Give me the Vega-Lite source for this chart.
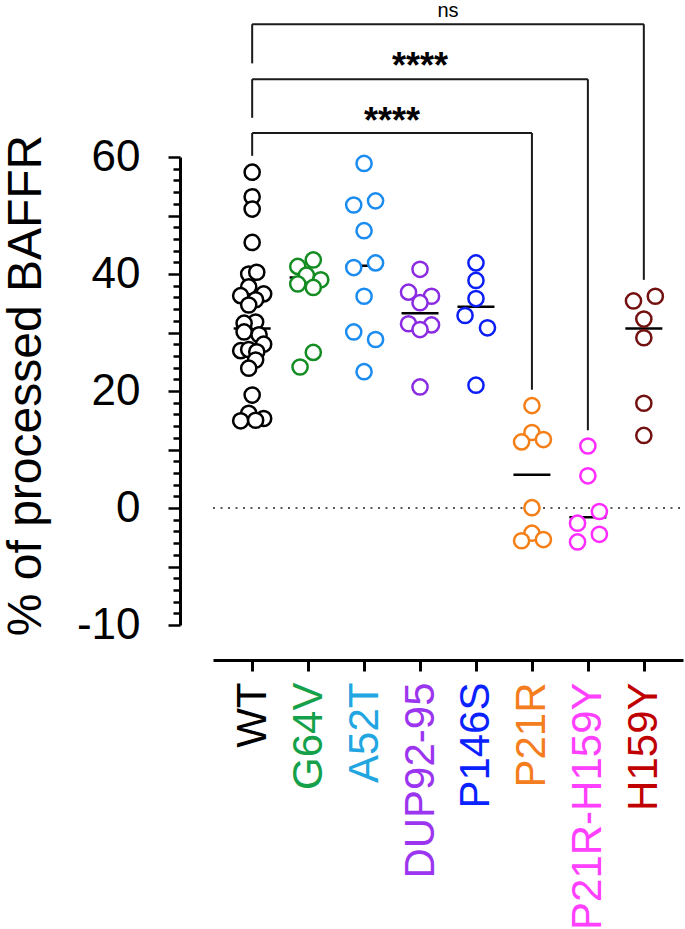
{
  "$schema": "https://vega.github.io/schema/vega-lite/v6.json",
  "width": 470,
  "height": 468,
  "autosize": {"type": "none"},
  "padding": {"left": 213, "top": 157, "right": 2, "bottom": 304},
  "config": {"view": {"stroke": null}, "font": "Liberation Sans"},
  "datasets": {
    "points": [
      {"group": "WT", "value": 57.4, "jitter": 0},
      {"group": "WT", "value": 53.2, "jitter": 0},
      {"group": "WT", "value": 51.1, "jitter": 0},
      {"group": "WT", "value": 45.4, "jitter": 0},
      {"group": "WT", "value": 40.0, "jitter": -0.3},
      {"group": "WT", "value": 40.3, "jitter": 0.4},
      {"group": "WT", "value": 37.8, "jitter": -0.3},
      {"group": "WT", "value": 36.3, "jitter": -1},
      {"group": "WT", "value": 36.6, "jitter": 1},
      {"group": "WT", "value": 35.6, "jitter": 0.3},
      {"group": "WT", "value": 34.7, "jitter": -0.3},
      {"group": "WT", "value": 31.8, "jitter": 0.3},
      {"group": "WT", "value": 31.6, "jitter": -0.7},
      {"group": "WT", "value": 30.1, "jitter": -0.7},
      {"group": "WT", "value": 29.6, "jitter": 0.6},
      {"group": "WT", "value": 28.0, "jitter": 1},
      {"group": "WT", "value": 26.9, "jitter": -1},
      {"group": "WT", "value": 27.1, "jitter": -0.3},
      {"group": "WT", "value": 26.7, "jitter": 0.4},
      {"group": "WT", "value": 25.3, "jitter": 0.3},
      {"group": "WT", "value": 23.9, "jitter": -0.3},
      {"group": "WT", "value": 19.3, "jitter": 0},
      {"group": "WT", "value": 16.2, "jitter": -0.3},
      {"group": "WT", "value": 14.9, "jitter": -1},
      {"group": "WT", "value": 15.3, "jitter": 1},
      {"group": "WT", "value": 15.0, "jitter": 0.3},
      {"group": "G64V", "value": 42.4, "jitter": 0.45},
      {"group": "G64V", "value": 41.3, "jitter": -0.9},
      {"group": "G64V", "value": 39.8, "jitter": -0.15},
      {"group": "G64V", "value": 39.0, "jitter": 1.1},
      {"group": "G64V", "value": 38.3, "jitter": -0.9},
      {"group": "G64V", "value": 37.7, "jitter": 0.45},
      {"group": "G64V", "value": 26.6, "jitter": 0.45},
      {"group": "G64V", "value": 24.1, "jitter": -0.7},
      {"group": "A52T", "value": 58.9, "jitter": 0},
      {"group": "A52T", "value": 51.8, "jitter": -0.9},
      {"group": "A52T", "value": 52.5, "jitter": 1},
      {"group": "A52T", "value": 47.4, "jitter": 0},
      {"group": "A52T", "value": 41.1, "jitter": -0.9},
      {"group": "A52T", "value": 41.9, "jitter": 1},
      {"group": "A52T", "value": 36.2, "jitter": 0},
      {"group": "A52T", "value": 30.1, "jitter": -0.9},
      {"group": "A52T", "value": 28.8, "jitter": 1},
      {"group": "A52T", "value": 23.3, "jitter": 0},
      {"group": "DUP92-95", "value": 40.8, "jitter": 0},
      {"group": "DUP92-95", "value": 36.9, "jitter": -1},
      {"group": "DUP92-95", "value": 36.2, "jitter": 1},
      {"group": "DUP92-95", "value": 35.1, "jitter": 0},
      {"group": "DUP92-95", "value": 31.5, "jitter": -1},
      {"group": "DUP92-95", "value": 31.3, "jitter": 1},
      {"group": "DUP92-95", "value": 30.5, "jitter": 0},
      {"group": "DUP92-95", "value": 20.7, "jitter": 0},
      {"group": "P146S", "value": 41.9, "jitter": 0},
      {"group": "P146S", "value": 38.9, "jitter": 0},
      {"group": "P146S", "value": 35.8, "jitter": 0},
      {"group": "P146S", "value": 32.9, "jitter": -0.95},
      {"group": "P146S", "value": 30.8, "jitter": 1},
      {"group": "P146S", "value": 21.0, "jitter": 0},
      {"group": "P21R", "value": 17.5, "jitter": 0},
      {"group": "P21R", "value": 12.9, "jitter": 0},
      {"group": "P21R", "value": 11.3, "jitter": -0.9},
      {"group": "P21R", "value": 11.7, "jitter": 1},
      {"group": "P21R", "value": 0.05, "jitter": 0},
      {"group": "P21R", "value": -4.3, "jitter": 0},
      {"group": "P21R", "value": -5.6, "jitter": -0.9},
      {"group": "P21R", "value": -5.4, "jitter": 1},
      {"group": "P21R-H159Y", "value": 10.6, "jitter": 0},
      {"group": "P21R-H159Y", "value": 5.5, "jitter": 0},
      {"group": "P21R-H159Y", "value": -0.6, "jitter": 1},
      {"group": "P21R-H159Y", "value": -2.6, "jitter": -0.9},
      {"group": "P21R-H159Y", "value": -4.5, "jitter": 1},
      {"group": "P21R-H159Y", "value": -5.8, "jitter": -0.9},
      {"group": "H159Y", "value": 35.4, "jitter": -0.9},
      {"group": "H159Y", "value": 36.2, "jitter": 1},
      {"group": "H159Y", "value": 32.3, "jitter": 0},
      {"group": "H159Y", "value": 29.1, "jitter": 0},
      {"group": "H159Y", "value": 17.9, "jitter": 0},
      {"group": "H159Y", "value": 12.4, "jitter": 0}
    ],
    "centers": [
      {"group": "WT", "value": 30.7},
      {"group": "G64V", "value": 39.4},
      {"group": "A52T", "value": 41.4},
      {"group": "DUP92-95", "value": 33.3},
      {"group": "P146S", "value": 34.4},
      {"group": "P21R", "value": 5.7},
      {"group": "P21R-H159Y", "value": -1.6},
      {"group": "H159Y", "value": 30.7}
    ],
    "brackets": [
      {"group": "WT", "group2": "P21R", "value": 64.1, "value2": 64.1},
      {"group": "WT", "group2": "WT", "value": 64.1, "value2": 60.2},
      {"group": "P21R", "group2": "P21R", "value": 64.1, "value2": 20.2},
      {"group": "WT", "group2": "P21R-H159Y", "value": 73.3, "value2": 73.3},
      {"group": "WT", "group2": "WT", "value": 73.3, "value2": 66.7},
      {"group": "P21R-H159Y", "group2": "P21R-H159Y", "value": 73.3, "value2": 13.3},
      {"group": "WT", "group2": "H159Y", "value": 82.7, "value2": 82.7},
      {"group": "WT", "group2": "WT", "value": 82.7, "value2": 76.0},
      {"group": "H159Y", "group2": "H159Y", "value": 82.7, "value2": 39.0}
    ],
    "notes": [
      {"group": "A52T", "value": 66.8, "label": "****"},
      {"group": "DUP92-95", "value": 76.2, "label": "****"},
      {"group": "DUP92-95", "value": 84.9, "label": "ns"}
    ]
  },
  "encoding": {
    "x": {
      "field": "group", "type": "nominal",
      "scale": {"type": "point", "domain": ["WT", "G64V", "A52T", "DUP92-95", "P146S", "P21R", "P21R-H159Y", "H159Y"], "padding": 0.7},
      "axis": {
        "title": null, "orient": "bottom", "offset": 35,
        "domainColor": "black", "domainWidth": 3,
        "tickColor": "black", "tickWidth": 3, "tickSize": 11,
        "labelAngle": -90, "labelAlign": "right", "labelBaseline": "middle",
        "labelFont": "Liberation Sans", "labelFontSize": 42, "labelPadding": 11, "labelLimit": 0,
        "labelColor": {"condition": [
          {"test": "datum.value === 'G64V'", "value": "#14A14A"},
          {"test": "datum.value === 'A52T'", "value": "#22A6E2"},
          {"test": "datum.value === 'DUP92-95'", "value": "#9B35F0"},
          {"test": "datum.value === 'P146S'", "value": "#0A22FF"},
          {"test": "datum.value === 'P21R'", "value": "#F47D20"},
          {"test": "datum.value === 'P21R-H159Y'", "value": "#FF40FF"},
          {"test": "datum.value === 'H159Y'", "value": "#C00000"}
        ], "value": "black"},
        "labelOverlap": false, "labelBound": false, "labelFlush": false
      }
    },
    "y": {
      "field": "value", "type": "quantitative",
      "scale": {"domain": [-20, 60], "nice": false, "zero": false},
      "axis": {
        "title": "% of processed BAFFR", "titleFont": "Liberation Sans", "titleFontSize": 48, "titleFontWeight": "normal", "titleColor": "black", "titlePadding": 26, "titleY": 228,
        "offset": 33, "grid": false,
        "values": [-20, -18, -16, -14, -12, -10, -8, -6, -4, -2, 0, 2, 4, 6, 8, 10, 12, 14, 16, 18, 20, 22, 24, 26, 28, 30, 32, 34, 36, 38, 40, 42, 44, 46, 48, 50, 52, 54, 56, 58, 60],
        "domainColor": "black", "domainWidth": 3,
        "tickColor": "black", "tickWidth": 2.5,
        "tickSize": {"condition": {"test": "datum.value % 10 === 0", "value": 12}, "value": 7},
        "labelExpr": "datum.value === -20 ? '-10' : (datum.value % 20 === 0 ? datum.label : '')",
        "labelFont": "Liberation Sans", "labelFontSize": 44, "labelColor": "black", "labelPadding": 28,
        "labelOverlap": false, "labelBound": false, "labelFlush": false
      }
    }
  },
  "layer": [
    {
      "data": {"values": [{"group": "WT", "value": 0, "group2": "H159Y"}]},
      "mark": {"type": "rule", "color": "#222222", "strokeWidth": 1.6, "strokeDash": [2, 5.5], "x": 0, "x2": {"expr": "width"}},
      "encoding": {"x": null}
    },
    {
      "data": {"name": "brackets"},
      "mark": {"type": "rule", "color": "#1a1a1a", "strokeWidth": 2},
      "encoding": {
        "x2": {"field": "group2"},
        "y2": {"field": "value2"}
      }
    },
    {
      "data": {"name": "centers"},
      "mark": {"type": "tick", "color": "black", "opacity": 1, "size": 37, "thickness": 2.5, "orient": "horizontal"}
    },
    {
      "data": {"name": "points"},
      "mark": {"type": "point", "shape": "circle", "filled": false, "fill": "white", "fillOpacity": 1, "size": 230, "strokeWidth": 2.5, "opacity": 1},
      "encoding": {
        "xOffset": {"field": "jitter", "type": "quantitative", "scale": {"domain": [-1, 1], "range": [-11.5, 11.5]}},
        "stroke": {
          "field": "group", "type": "nominal", "legend": null,
          "scale": {
            "domain": ["WT", "G64V", "A52T", "DUP92-95", "P146S", "P21R", "P21R-H159Y", "H159Y"],
            "range": ["#000000", "#138C22", "#1A8CF0", "#8A2BE2", "#0A1EF5", "#F57F17", "#FF2BFF", "#731010"]
          }
        }
      }
    },
    {
      "data": {"name": "notes"},
      "transform": [{"filter": "datum.label === '****' && datum.group === 'A52T'"}],
      "mark": {"type": "text", "font": "Liberation Sans", "fontSize": 36, "fontWeight": "bold", "color": "black", "baseline": "middle", "align": "center", "dx": 28, "dy": 5},
      "encoding": {"text": {"field": "label"}}
    },
    {
      "data": {"name": "notes"},
      "transform": [{"filter": "datum.label === '****' && datum.group === 'DUP92-95'"}],
      "mark": {"type": "text", "font": "Liberation Sans", "fontSize": 36, "fontWeight": "bold", "color": "black", "baseline": "middle", "align": "center", "dx": 0, "dy": 5},
      "encoding": {"text": {"field": "label"}}
    },
    {
      "data": {"name": "notes"},
      "transform": [{"filter": "datum.label === 'ns'"}],
      "mark": {"type": "text", "font": "Liberation Sans", "fontSize": 20, "color": "black", "baseline": "middle", "align": "center", "dx": 28},
      "encoding": {"text": {"field": "label"}}
    }
  ]
}
